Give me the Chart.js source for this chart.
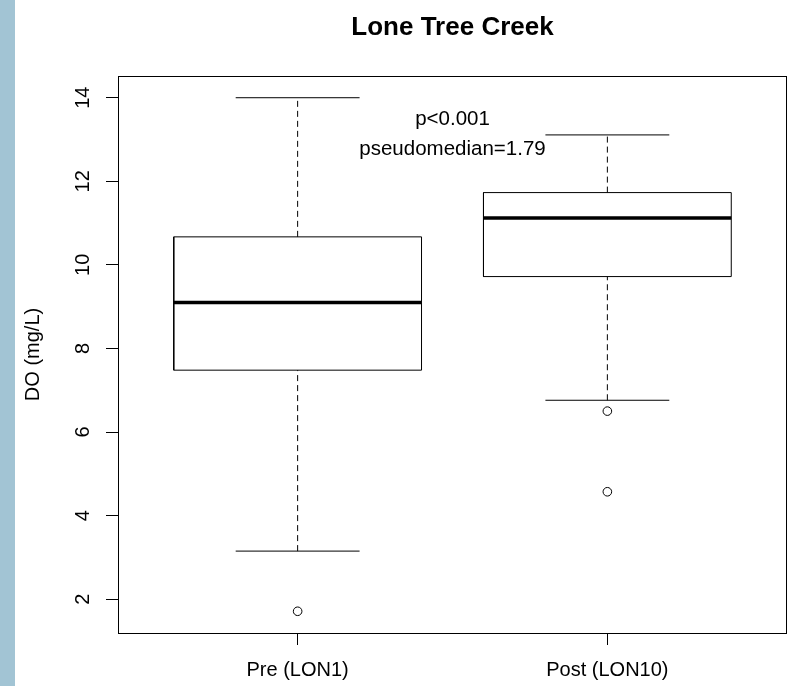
<!DOCTYPE html>
<html>
<head>
<meta charset="utf-8">
<title>Lone Tree Creek</title>
<script src="https://cdn.jsdelivr.net/npm/chart.js@4.4.1/dist/chart.umd.min.js"></script>
<style>
    html, body { margin: 0; padding: 0; background: #fff; }
    #wrap { position: relative; width: 788px; height: 686px; overflow: hidden; }
    #strip { position: absolute; left: 0; top: 0; width: 15px; height: 686px; background: #a2c4d4; }
    canvas { position: absolute; left: 0; top: 0; }
</style>
</head>
<body>
<div id="wrap">
    <div id="strip"></div>
    <canvas id="boxChart" width="788" height="686"></canvas>
</div>
<script>
const categories = ['Pre (LON1)', 'Post (LON10)'];
const whiskerLow = [3.15, 6.76];
const q1 = [7.48, 9.72];
const medians = [9.10, 11.12];
const q3 = [10.67, 11.73];
const whiskerHigh = [14.0, 13.11];
const outliers = [[1.71], [6.50, 4.57]];
const yTicks = [2, 4, 6, 8, 10, 12, 14];
const chartTitle = 'Lone Tree Creek';
const yTitle = 'DO (mg/L)';
const notes = ['p<0.001', 'pseudomedian=1.79'];

const FONT = '"Liberation Sans", Arial, sans-serif';
const BOX_HALF = 0.4;
const CAP_HALF = 0.2;

// one plain line dataset per segment of the box plot
function segment(points, extra) {
    return Object.assign({
        data: points,
        showLine: true,
        borderColor: '#000',
        borderWidth: 1,
        borderCapStyle: 'butt',
        borderJoinStyle: 'miter',
        pointRadius: 0,
        fill: false,
        tension: 0
    }, extra || {});
}

const datasets = [];
categories.forEach((cat, i) => {
    const x = i + 1;
    datasets.push(segment([
        { x: x - BOX_HALF, y: q1[i] },
        { x: x + BOX_HALF, y: q1[i] },
        { x: x + BOX_HALF, y: q3[i] },
        { x: x - BOX_HALF, y: q3[i] },
        { x: x - BOX_HALF, y: q1[i] }
    ]));
    datasets.push(segment([{ x: x - BOX_HALF, y: medians[i] }, { x: x + BOX_HALF, y: medians[i] }], { borderWidth: 3.5 }));
    datasets.push(segment([{ x: x, y: q3[i] }, { x: x, y: whiskerHigh[i] }], { borderDash: [6, 4] }));
    datasets.push(segment([{ x: x, y: whiskerLow[i] }, { x: x, y: q1[i] }], { borderDash: [6, 4] }));
    datasets.push(segment([{ x: x - CAP_HALF, y: whiskerHigh[i] }, { x: x + CAP_HALF, y: whiskerHigh[i] }]));
    datasets.push(segment([{ x: x - CAP_HALF, y: whiskerLow[i] }, { x: x + CAP_HALF, y: whiskerLow[i] }]));
    datasets.push({
        data: outliers[i].map(v => ({ x: x, y: v })),
        showLine: false,
        pointStyle: 'circle',
        pointRadius: 4.3,
        pointBorderWidth: 1,
        pointBorderColor: '#000',
        pointBackgroundColor: '#fff'
    });
});

const textLayer = {
    id: 'textLayer',
    afterDraw(chart) {
        const { ctx, chartArea: a, scales: { x, y } } = chart;
        ctx.save();

        // plot frame
        ctx.strokeStyle = '#000';
        ctx.lineWidth = 1;
        ctx.strokeRect(Math.round(a.left) + 0.5, Math.round(a.top) + 0.5,
            Math.round(a.right - a.left) - 1, Math.round(a.bottom - a.top));

        ctx.fillStyle = '#000';
        ctx.textAlign = 'center';
        ctx.textBaseline = 'alphabetic';

        ctx.font = 'bold 26px ' + FONT;
        ctx.fillText(chartTitle, (a.left + a.right) / 2, 35);

        ctx.font = '20px ' + FONT;
        y.ticks.forEach(t => {
            ctx.save();
            ctx.translate(a.left - 29, y.getPixelForValue(t.value));
            ctx.rotate(-Math.PI / 2);
            ctx.fillText(String(t.value), 0, 0);
            ctx.restore();
        });

        ctx.save();
        ctx.translate(39, (a.top + a.bottom) / 2);
        ctx.rotate(-Math.PI / 2);
        ctx.fillText(yTitle, 0, 0);
        ctx.restore();

        const nx = x.getPixelForValue(1.5);
        ctx.font = '20.5px ' + FONT;
        ctx.fillText(notes[0], nx, y.getPixelForValue(13.35));
        ctx.fillText(notes[1], nx, y.getPixelForValue(12.63));

        ctx.restore();
    }
};

new Chart(document.getElementById('boxChart'), {
    type: 'scatter',
    data: { datasets: datasets },
    options: {
        responsive: false,
        animation: false,
        layout: { autoPadding: false, padding: { top: 76, right: 1, left: 0, bottom: 0 } },
        plugins: {
            legend: { display: false },
            tooltip: { enabled: false },
            title: { display: false }
        },
        scales: {
            x: {
                type: 'linear',
                min: 0.42,
                max: 2.58,
                afterBuildTicks: (scale) => {
                    scale.ticks = categories.map((c, i) => ({ value: i + 1 }));
                },
                afterFit: (scale) => { scale.height = 53; },
                ticks: {
                    callback: (value, index) => categories[index],
                    autoSkip: false,
                    maxRotation: 0,
                    padding: 13,
                    color: '#000',
                    font: { family: FONT, size: 20 }
                },
                grid: { drawOnChartArea: false, drawTicks: true, tickLength: 12, tickColor: '#000', tickWidth: 1 },
                border: { display: false }
            },
            y: {
                type: 'linear',
                min: 1.19,
                max: 14.52,
                afterBuildTicks: (scale) => {
                    scale.ticks = yTicks.map(v => ({ value: v }));
                },
                afterFit: (scale) => { scale.width = 118; },
                ticks: { display: false },
                grid: { drawOnChartArea: false, drawTicks: true, tickLength: 12, tickColor: '#000', tickWidth: 1 },
                border: { display: false }
            }
        }
    },
    plugins: [textLayer]
});
</script>
</body>
</html>
